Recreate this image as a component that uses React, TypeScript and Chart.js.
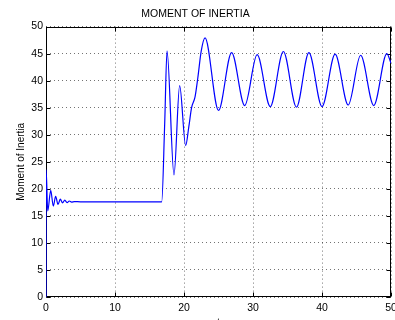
import React, { useEffect, useRef } from "react";
import { Chart, registerables } from "chart.js";

Chart.register(...registerables);

const TITLE = "MOMENT OF INERTIA";
const Y_LABEL = "Moment of Inertia";
const X_LABEL = "t";

const tValues = [
  0, 0.02, 0.25, 0.68, 1.06, 1.4, 1.74, 2.07, 2.4, 2.72, 3.05, 3.38, 3.7, 4.1, 5, 10, 16.77,
  17.2, 17.54, 18.55, 19.37, 20.24, 20.7, 21.1, 21.6, 22.0, 22.5, 23.05,
  25.0, 26.9, 28.8, 30.6, 32.5, 34.4, 36.3,
  38.1, 40.0, 41.9, 43.8, 45.6, 47.5, 49.4, 50,
];

const inertia = [
  0, 23.5, 15.9, 19.7, 16.8, 18.6, 17.1, 18.1, 17.4, 17.9, 17.45, 17.75, 17.55, 17.65, 17.6, 17.6, 17.6,
  32, 45.5, 22.6, 39.1, 28.0, 31.5, 35, 37, 40.5, 45.5, 47.9,
  34.5, 45.2, 35.4, 44.8, 35.2, 45.4, 35.1,
  45.2, 35.2, 44.9, 35.5, 44.7, 35.4, 45.0, 43.2,
];

const FONT = "'Liberation Sans', Arial, Helvetica, sans-serif";

const boxPlugin = {
  id: "matlabBox",
  beforeDatasetsDraw(chart: any) {
    const { ctx, chartArea: a, scales } = chart;
    const L = Math.round(a.left) + 0.5;
    const R = Math.round(a.right) - 0.5;
    const T = Math.round(a.top) + 0.5;
    const B = Math.round(a.bottom) - 0.5;
    ctx.save();
    ctx.setLineDash([]);
    ctx.strokeStyle = "#000";
    ctx.lineWidth = 1;
    ctx.beginPath();
    scales.x.ticks.forEach((t: any) => {
      const px = Math.round(scales.x.getPixelForValue(t.value)) + 0.5;
      ctx.moveTo(px, B);
      ctx.lineTo(px, B - 4);
      ctx.moveTo(px, T);
      ctx.lineTo(px, T + 4);
    });
    scales.y.ticks.forEach((t: any) => {
      const py = Math.round(scales.y.getPixelForValue(t.value)) + 0.5;
      ctx.moveTo(L, py);
      ctx.lineTo(L + 4, py);
      ctx.moveTo(R, py);
      ctx.lineTo(R - 4, py);
    });
    ctx.stroke();
    ctx.strokeRect(L, T, R - L, B - T);
    ctx.restore();
  },
};

export default function App() {
  const ref = useRef<HTMLCanvasElement | null>(null);

  useEffect(() => {
    if (!ref.current) return;
    const points = tValues.map((t, i) => ({ x: t, y: inertia[i] }));
    const chart = new Chart(ref.current, {
      type: "line",
      data: {
        datasets: [
          {
            data: points,
            borderColor: "#0000ff",
            borderWidth: 1.2,
            pointRadius: 0,
            fill: false,
            cubicInterpolationMode: "monotone",
          },
        ],
      },
      options: {
        responsive: false,
        animation: false,
        devicePixelRatio: 1,
        layout: { padding: { left: 0, right: 4, top: 0, bottom: 0 } },
        plugins: {
          legend: { display: false },
          tooltip: { enabled: false },
          title: {
            display: true,
            text: TITLE,
            color: "#000",
            font: { family: FONT, size: 10.5, weight: "normal" },
            padding: { top: 8, bottom: 6 },
          },
        },
        scales: {
          x: {
            type: "linear",
            min: 0,
            max: 50,
            ticks: {
              stepSize: 10,
              color: "#000",
              padding: 5,
              maxRotation: 0,
              font: { family: FONT, size: 10.5 },
            },
            grid: { color: "rgba(0,0,0,0.55)", lineWidth: 1, drawTicks: false },
            border: { display: false, dash: [1, 3] },
            title: {
              display: true,
              text: X_LABEL,
              color: "#000",
              font: { family: FONT, size: 10.5 },
              padding: { top: 0, bottom: 5.4 },
            },
            afterFit(scale: any) {
              scale.height = 38;
              scale.paddingLeft = 0;
              scale.paddingRight = 0;
            },
          },
          y: {
            type: "linear",
            min: 0,
            max: 50,
            ticks: {
              stepSize: 5,
              color: "#000",
              padding: 3,
              font: { family: FONT, size: 10.5 },
            },
            grid: { color: "rgba(0,0,0,0.55)", lineWidth: 1, drawTicks: false },
            border: { display: false, dash: [1, 3] },
            title: {
              display: true,
              text: Y_LABEL,
              color: "#000",
              font: { family: FONT, size: 10 },
              padding: { top: 15, bottom: 0 },
            },
            afterFit(scale: any) {
              scale.width = 46;
              scale.paddingTop = 0;
              scale.paddingBottom = 0;
            },
          },
        },
      },
      plugins: [boxPlugin],
    } as any);
    return () => chart.destroy();
  }, []);

  return (
    <div
      style={{
        position: "fixed",
        left: 0,
        top: 0,
        width: 395,
        height: 320,
        overflow: "hidden",
        background: "#fff",
      }}
    >
      <canvas ref={ref} width={395} height={335} style={{ width: 395, height: 335, display: "block" }} />
    </div>
  );
}
